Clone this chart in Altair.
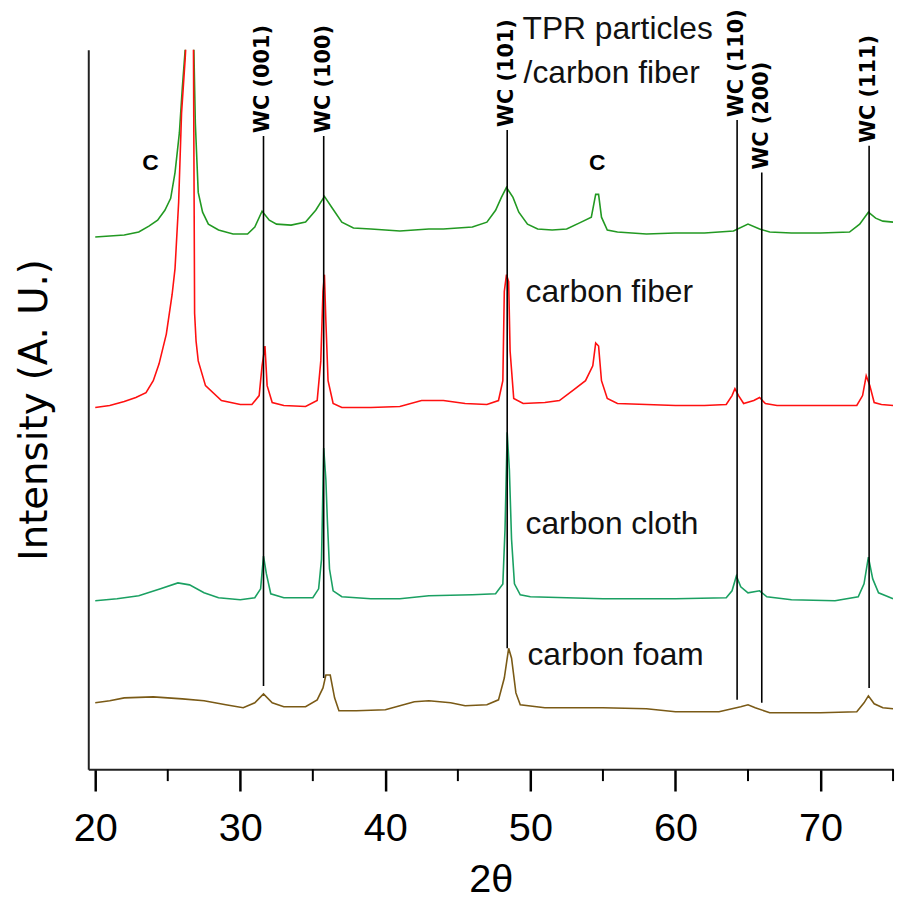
import altair as alt
import pandas as pd

# ---------------- data (2theta, intensity in arbitrary units, stacked) ----------------
series_names = ["TPR particles/carbon fiber", "carbon fiber", "carbon cloth", "carbon foam"]
series_colors = ["#229922", "#ff1010", "#1aa062", "#7a5a16"]

tpr_theta = [20.0, 21.0, 22.0, 23.0, 23.7, 24.3, 24.8, 25.2, 25.5, 25.8, 26.0, 26.2, 26.35, 26.6, 26.8,
             26.9, 27.1, 27.4, 27.8, 28.5, 29.5, 30.5, 31.0, 31.5, 32.0, 32.5, 33.5, 34.5, 35.2, 35.8,
             36.3, 37.0, 37.8, 39.0, 40.0, 41.0, 42.0, 43.0, 44.0, 45.0, 46.0, 47.0, 47.6, 48.0, 48.35,
             48.8, 49.2, 49.8, 50.5, 51.5, 52.5, 53.5, 54.2, 54.5, 54.7, 54.9, 55.3, 56.0, 58.0, 60.0,
             62.0, 64.0, 65.0, 65.8, 66.5, 68.0, 70.0, 72.0, 72.7, 73.3, 73.8, 74.3, 75.0]
tpr_int = [537, 538, 539, 542, 548, 554, 564, 576, 602, 642, 687, 726, 800, 800, 726,
           652, 582, 562, 550, 544, 540, 540, 547, 563, 554, 550, 549, 552, 564, 578,
           567, 552, 546, 545, 544, 543, 544, 545, 545, 546, 547, 552, 564, 577, 587,
           577, 562, 550, 545, 544, 545, 552, 557, 580, 580, 557, 544, 542, 540, 541,
           541, 543, 550, 545, 542, 541, 541, 542, 550, 562, 556, 553, 552]

fiber_theta = [20.0, 21.0, 22.0, 22.8, 23.5, 24.0, 24.4, 24.9, 25.3, 25.5, 25.75, 25.95, 26.2, 26.5, 26.75,
               26.85, 26.95, 27.1, 27.6, 28.7, 30.0, 30.8, 31.3, 31.5, 31.7, 31.85, 32.2, 33.0, 34.5, 35.3,
               35.55, 35.7, 35.8, 35.9, 36.05, 36.4, 37.0, 39.0, 41.0, 42.5, 44.0, 45.5, 47.0, 47.8, 48.1,
               48.2, 48.35, 48.5, 48.6, 48.85, 49.5, 51.0, 52.0, 53.0, 53.8, 54.3, 54.5, 54.7, 54.9, 55.3,
               56.0, 58.0, 60.0, 62.0, 63.5, 63.9, 64.1, 64.35, 64.7, 65.4, 65.8, 66.2, 67.0, 70.0, 72.5,
               72.9, 73.15, 73.4, 73.7, 74.2, 75.0]
fiber_int = [365, 367, 371, 375, 380, 392, 409, 439, 479, 505, 572, 662, 717, 800, 800,
             460, 432, 412, 387, 372, 368, 368, 377, 407, 427, 387, 370, 367, 366, 372,
             412, 482, 499, 452, 392, 369, 365, 365, 366, 372, 372, 369, 368, 372, 392,
             482, 499, 492, 422, 374, 369, 370, 372, 383, 392, 407, 430, 427, 392, 374,
             369, 368, 367, 367, 368, 377, 384, 377, 369, 372, 375, 369, 367, 367, 367,
             377, 397, 387, 370, 368, 367]

cloth_theta = [20.0, 21.5, 23.0, 24.5, 25.7, 26.5, 27.5, 28.5, 30.0, 31.0, 31.4, 31.6, 31.8, 32.1, 33.0,
               35.0, 35.4, 35.6, 35.75, 35.9, 36.0, 36.15, 36.4, 37.0, 39.0, 41.0, 43.0, 46.0, 47.6, 48.1,
               48.25, 48.4, 48.55, 48.7, 48.9, 49.3, 50.0, 55.0, 60.0, 63.5, 63.9, 64.2, 64.5, 65.0, 65.8,
               66.3, 68.0, 71.0, 72.6, 73.0, 73.3, 73.6, 74.0, 74.5, 75.0]
cloth_int = [170, 172, 175, 182, 188, 186, 178, 173, 171, 173, 182, 215, 197, 177, 173,
             173, 182, 212, 324, 292, 252, 202, 180, 174, 172, 172, 175, 176, 177, 187,
             242, 340, 302, 232, 187, 176, 174, 172, 172, 173, 180, 195, 184, 178, 180,
             174, 171, 170, 174, 187, 214, 192, 178, 175, 172]

foam_theta = [20.0, 21.0, 22.0, 24.0, 26.0, 27.5, 29.0, 30.2, 31.0, 31.6, 32.2, 33.0, 34.5, 35.3, 35.7,
              35.9, 36.2, 36.5, 36.8, 38.0, 40.0, 41.0, 42.0, 43.0, 44.5, 45.5, 47.0, 47.8, 48.2, 48.5,
              48.7, 49.0, 49.3, 51.0, 55.0, 58.0, 60.0, 63.0, 64.5, 65.0, 65.5, 66.5, 70.0, 72.5, 73.0,
              73.3, 73.7, 74.3, 75.0]
foam_int = [67, 69, 72, 73, 71, 69, 65, 62, 67, 76, 67, 63, 63, 70, 82,
            95, 95, 72, 59, 59, 60, 64, 68, 69, 67, 64, 65, 70, 92, 122,
            112, 77, 65, 62, 62, 61, 58, 58, 63, 65, 62, 57, 57, 58, 67,
            74, 66, 62, 61]

# WC reference lines
wc_labels = ["WC (001)", "WC (100)", "WC (101)", "WC (110)", "WC (200)", "WC (111)"]
wc_theta = [31.6, 35.75, 48.4, 64.25, 65.95, 73.35]
wc_top = [639, 639, 645, 655, 602, 629]
wc_bottom = [84, 92, 122, 70, 67, 82]

# carbon peak marks
c_labels = ["C", "C"]
c_theta = [23.8, 54.6]
c_int = [612, 612]

# trace names
name_labels = ["TPR particles", "/carbon fiber", "carbon fiber", "carbon cloth", "carbon foam"]
name_theta = [49.46, 49.53, 49.67, 49.67, 49.8]
name_int = [747, 702, 481, 247, 115]

major_ticks = [20, 30, 40, 50, 60, 70]
minor_ticks = [25, 35, 45, 55, 65, 75]

# ---------------- build tables ----------------
rows = []
for name, th, it in zip(series_names,
                        [tpr_theta, fiber_theta, cloth_theta, foam_theta],
                        [tpr_int, fiber_int, cloth_int, foam_int]):
    for i, (a, b) in enumerate(zip(th, it)):
        rows.append({"series": name, "theta": a, "intensity": b, "order": i})
df = pd.DataFrame(rows)
wc_df = pd.DataFrame({"label": wc_labels, "theta": wc_theta, "top": wc_top, "bottom": wc_bottom})
c_df = pd.DataFrame({"label": c_labels, "theta": c_theta, "intensity": c_int})
name_df = pd.DataFrame({"label": name_labels, "theta": name_theta, "intensity": name_int})
minor_df = pd.DataFrame({"theta": minor_ticks})

W, H = 812, 726
xscale = alt.Scale(domain=[19.52, 75.0], nice=False, zero=False)
yscale = alt.Scale(domain=[0, 726], nice=False, zero=False)

x_axis = alt.Axis(values=major_ticks, tickSize=22, tickWidth=2.5, tickColor="black",
                  domainColor="#222222", domainWidth=2, grid=False,
                  labelFont="Liberation Sans", labelFontSize=40, labelColor="black",
                  labelPadding=18, title="2θ", titleFont="Liberation Sans",
                  titleFontSize=40, titleFontWeight="normal", titleColor="black", titlePadding=11)
y_axis = alt.Axis(ticks=False, labels=False, grid=False, domainColor="#222222", domainWidth=2,
                  title="Intensity (A. U.)", titleFont="DejaVu Sans", titleFontSize=39,
                  titleFontWeight="normal", titleColor="black", titlePadding=34)

lines = alt.Chart(df).mark_line(clip=True, strokeWidth=1.6).encode(
    x=alt.X("theta:Q", scale=xscale, axis=x_axis),
    y=alt.Y("intensity:Q", scale=yscale, axis=y_axis),
    color=alt.Color("series:N", scale=alt.Scale(domain=series_names, range=series_colors), legend=None),
    order="order:Q",
    detail="series:N",
)

wc_rules = alt.Chart(wc_df).mark_rule(color="black", strokeWidth=1.6).encode(
    x="theta:Q", y="bottom:Q", y2="top:Q")

wc_text = alt.Chart(wc_df).mark_text(angle=270, align="left", baseline="middle", dx=3,
                                     font="DejaVu Sans", fontSize=21, fontWeight="bold",
                                     color="black").encode(
    x="theta:Q", y="top:Q", text="label:N")

c_text = alt.Chart(c_df).mark_text(font="Liberation Sans", fontSize=23, fontWeight="bold",
                                   color="black", baseline="middle").encode(
    x="theta:Q", y="intensity:Q", text="label:N")

name_text = alt.Chart(name_df).mark_text(font="Liberation Sans", fontSize=32, align="left",
                                         baseline="middle", color="#111111").encode(
    x="theta:Q", y="intensity:Q", text="label:N")

minor = alt.Chart(minor_df).mark_rule(color="black", strokeWidth=2).encode(
    x="theta:Q", y=alt.value(H), y2=alt.value(H + 12))

chart = alt.layer(lines, wc_rules, wc_text, c_text, name_text, minor).properties(
    width=W, height=H,
    autosize=alt.AutoSizeParams(type="none"),
    padding={"left": 81, "top": 38, "right": 5, "bottom": 138},
).configure_view(stroke=None).configure_axisX(orient="bottom")

chart.save("out.html", embed_options={"renderer": "svg", "actions": False})
